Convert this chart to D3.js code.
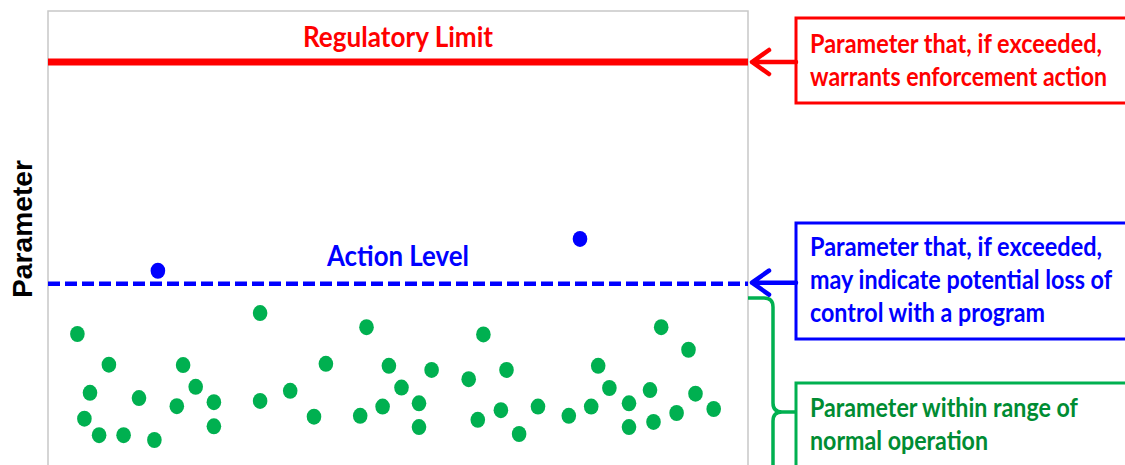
<!DOCTYPE html>
<html>
<head>
<meta charset="utf-8">
<script src="https://cdn.jsdelivr.net/npm/d3@7"></script>
<style>
  html, body { margin: 0; padding: 0; background: #fff; }
  svg { display: block; }
</style>
</head>
<body>
<svg id="chart" width="1125" height="465"></svg>
<script>
// ---- data ----
const normalX = [4.2, 8.7, 6.0, 5.2, 7.3, 10.8, 13.0, 15.2, 19.3, 21.1, 18.4, 23.7, 23.7, 30.3, 30.3, 34.6, 39.7, 38.0, 45.5, 48.7, 44.6, 47.8, 50.5, 53.0, 53.0, 54.8, 62.2, 60.1, 65.5, 61.4, 64.7, 67.3, 70.0, 74.4, 77.6, 78.6, 80.2, 83.0, 83.0, 86.0, 86.5, 87.6, 91.5, 89.8, 92.5, 95.1];
const normalY = [32.5, 24.9, 17.9, 11.5, 7.4, 7.4, 16.6, 6.2, 24.8, 19.4, 14.6, 15.6, 9.6, 37.7, 15.9, 18.4, 25.1, 12.0, 34.2, 24.6, 12.2, 14.5, 19.2, 15.3, 9.4, 23.6, 32.4, 21.3, 23.6, 11.2, 13.6, 7.7, 14.5, 12.2, 14.5, 24.6, 19.1, 15.3, 9.4, 18.6, 10.7, 34.2, 28.6, 12.9, 17.7, 13.9];
const exceedX = [15.7, 76.0];
const exceedY = [48.2, 56.1];
const regulatoryLimit = 100;
const actionLevel = 45;
const limitLabel = "Regulatory Limit";
const actionLabel = "Action Level";
const yAxisLabel = "Parameter";
const redBoxLines = ["Parameter that, if exceeded,", "warrants enforcement action"];
const blueBoxLines = ["Parameter that, if exceeded,", "may indicate potential loss of", "control with a program"];
const greenBoxLines = ["Parameter within range of", "normal operation"];

// ---- layout ----
const svg = d3.select("#chart");
const left = 48, right = 748, frameTop = 11;
const x = d3.scaleLinear().domain([0, 100]).range([left, right]);
const y = d3.scaleLinear().domain([0, 100]).range([465, 62]);

const RED = "#FF0000", BLUE = "#0000FF", GREEN = "#00B050", GREEN_TEXT = "#008C33";
const FONT = "Lato, 'Open Sans', sans-serif";
const STRETCH = 1.12;

function fitText(sel, targetWidth) {
  sel.each(function () {
    const node = this;
    const fs = parseFloat(node.getAttribute("font-size"));
    const w = node.getComputedTextLength();
    if (w > 0) node.setAttribute("font-size", (fs * targetWidth / w).toFixed(2));
  });
}

function label(str, tx, ty, anchor, color, width) {
  svg.append("text").text(str)
    .attr("transform", `translate(${tx},${ty}) scale(1,${STRETCH})`)
    .attr("text-anchor", anchor)
    .attr("font-family", FONT).attr("font-weight", "bold").attr("font-size", 22)
    .attr("fill", color).call(fitText, width);
}

// frame
svg.append("path")
  .attr("d", `M${left},470 V${frameTop} H${right} V470`)
  .attr("fill", "none").attr("stroke", "#C8C8C8").attr("stroke-width", 1.5);

// regulatory limit line
svg.append("line")
  .attr("x1", left).attr("x2", right)
  .attr("y1", y(regulatoryLimit)).attr("y2", y(regulatoryLimit))
  .attr("stroke", RED).attr("stroke-width", 7);

// action level line
svg.append("line")
  .attr("x1", left).attr("x2", right)
  .attr("y1", y(actionLevel)).attr("y2", y(actionLevel))
  .attr("stroke", BLUE).attr("stroke-width", 4.5)
  .attr("stroke-dasharray", "12,5");

// labels on lines
const cx = (left + right) / 2;
label(limitLabel, cx, 47, "middle", RED, 190);
label(actionLabel, cx, 266, "middle", BLUE, 142);

// points
svg.append("g").selectAll("ellipse")
  .data(normalX.map((d, i) => [d, normalY[i]]))
  .join("ellipse")
  .attr("cx", d => x(d[0])).attr("cy", d => y(d[1]))
  .attr("rx", 7.3).attr("ry", 8).attr("fill", GREEN);
svg.append("g").selectAll("ellipse")
  .data(exceedX.map((d, i) => [d, exceedY[i]]))
  .join("ellipse")
  .attr("cx", d => x(d[0])).attr("cy", d => y(d[1]))
  .attr("rx", 7.3).attr("ry", 8).attr("fill", BLUE);

// y axis label
svg.append("text").text(yAxisLabel)
  .attr("transform", "translate(32,229) rotate(-90)")
  .attr("text-anchor", "middle")
  .attr("font-family", "'Liberation Sans', Arial, sans-serif")
  .attr("font-weight", "bold").attr("font-size", 24).attr("fill", "#000")
  .call(fitText, 138);

// boxes
const boxX = 796;
function box(y0, y1, color) {
  svg.append("rect").attr("x", boxX).attr("y", y0)
    .attr("width", 1125 + 20 - boxX).attr("height", y1 - y0)
    .attr("fill", "#fff").attr("stroke", color).attr("stroke-width", 3);
}
box(18, 103, RED);
box(223, 339, BLUE);
box(383, 500, GREEN);

function lines(arr, baselines, widths, color) {
  arr.forEach((t, i) => label(t, 810, baselines[i], "start", color, widths[i]));
}
lines(redBoxLines, [53, 86], [292, 297], RED);
lines(blueBoxLines, [256, 289, 322], [292, 302, 235], BLUE);
lines(greenBoxLines, [417, 450], [268, 178], GREEN_TEXT);

// arrows
function arrow(yy, color) {
  svg.append("path")
    .attr("d", `M${boxX},${yy} H752 M769,${yy - 12} L752,${yy} L769,${yy + 12}`)
    .attr("fill", "none").attr("stroke", color).attr("stroke-width", 4.5)
    .attr("stroke-linecap", "round").attr("stroke-linejoin", "round");
}
arrow(y(regulatoryLimit), RED);
arrow(y(actionLevel) - 1, BLUE);

// brace for normal range
svg.append("path")
  .attr("d", "M748,298 H764 Q773,298 773,307 V403 Q773,412 782,412 H797 M782,412 Q773,412 773,421 V475")
  .attr("fill", "none").attr("stroke", GREEN).attr("stroke-width", 3.5);
</script>
</body>
</html>
